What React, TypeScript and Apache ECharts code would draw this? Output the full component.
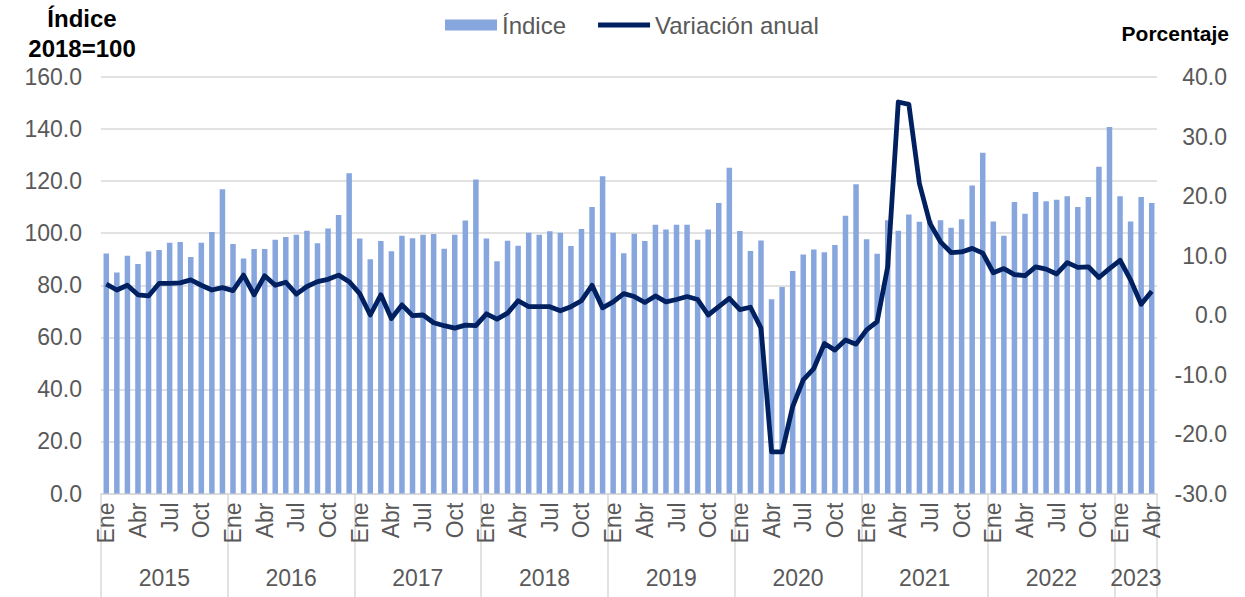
import React, { useEffect, useRef } from "react";
import * as echarts from "echarts";

const years = ["2015", "2016", "2017", "2018", "2019", "2020", "2021", "2022", "2023"];
const monthsPerYear = [12, 12, 12, 12, 12, 12, 12, 12, 4];
const monthNames = ["Ene", "Feb", "Mar", "Abr", "May", "Jun", "Jul", "Ago", "Sep", "Oct", "Nov", "Dic"];

const indice = [
  92.2, 84.9, 91.3, 88.2, 93.0, 93.5, 96.3, 96.6, 90.9, 96.3, 100.5, 116.9,
  95.8, 90.3, 93.9, 93.9, 97.5, 98.5, 99.4, 100.9, 96.1, 101.8, 107.0, 123.0,
  98.0, 90.0, 97.0, 93.1, 99.0, 98.1, 99.4, 99.7, 94.0, 99.4, 104.9, 120.6,
  98.0, 89.2, 97.1, 95.2, 100.2, 99.4, 100.7, 100.2, 95.1, 101.6, 110.1, 121.9,
  100.2, 92.3, 99.8, 97.0, 103.2, 101.4, 103.2, 103.2, 97.5, 101.4, 111.6, 125.1,
  100.8, 93.2, 97.2, 74.6, 79.3, 85.5, 91.8, 93.7, 92.7, 95.5, 106.7, 118.8,
  97.7, 92.1, 105.0, 100.9, 107.2, 104.4, 104.8, 105.0, 102.1, 105.4, 118.3, 130.9,
  104.5, 99.0, 112.0, 107.5, 115.8, 112.3, 112.8, 114.2, 110.1, 113.9, 125.5, 140.8,
  114.2, 104.5, 113.9, 111.6,
];

const variacion = [
  5.2, 4.2, 5.0, 3.4, 3.2, 5.3, 5.3, 5.4, 5.9, 5.0, 4.2, 4.6,
  4.1, 6.7, 3.4, 6.6, 5.0, 5.5, 3.5, 4.8, 5.6, 6.0, 6.7, 5.6,
  3.6, 0.0, 3.4, -0.6, 1.7, -0.1, 0.0, -1.3, -1.8, -2.2, -1.7, -1.8,
  0.2, -0.7, 0.3, 2.4, 1.4, 1.4, 1.4, 0.7, 1.4, 2.4, 5.0, 1.2,
  2.2, 3.6, 3.1, 2.1, 3.2, 2.2, 2.6, 3.1, 2.6, 0.0, 1.4, 2.8,
  0.9, 1.3, -2.2, -23.0, -23.0, -15.4, -10.9, -9.0, -4.8, -5.9, -4.2, -4.9,
  -2.5, -1.1, 8.1, 35.8, 35.4, 22.1, 15.4, 12.3, 10.5, 10.6, 11.2, 10.4,
  7.1, 7.8, 6.8, 6.6, 8.1, 7.7, 6.9, 8.8, 8.0, 8.1, 6.3, 7.8,
  9.2, 5.9, 1.8, 4.0,
];

const FONT = "'Liberation Sans', Arial, sans-serif";
const GREY = "#595959";
const GRID = "#d9d9d9";

export default function App() {
  const ref = useRef<HTMLDivElement>(null);

  useEffect(() => {
    if (!ref.current) return;
    const chart = echarts.init(ref.current, undefined, { renderer: "svg" });

    const categories: string[] = [];
    const monthLabel: string[] = [];
    years.forEach((y, yi) => {
      for (let m = 0; m < monthsPerYear[yi]; m++) {
        categories.push(`${y}-${m + 1}`);
        monthLabel.push(monthNames[m]);
      }
    });

    const boundaries: number[] = [0];
    const centers: number[] = [];
    const centerYear: Record<string, string> = {};
    let acc = 0;
    years.forEach((y, yi) => {
      const c = acc + monthsPerYear[yi] / 2;
      centers.push(c);
      centerYear[String(c)] = y;
      acc += monthsPerYear[yi];
      boundaries.push(acc);
    });

    chart.setOption({
      animation: false,
      textStyle: { fontFamily: FONT },
      grid: { left: 101, right: 88, top: 77, bottom: 103.5, containLabel: false },
      legend: {
        left: 440,
        top: 8,
        itemWidth: 52,
        itemHeight: 11,
        itemGap: 32,
        textStyle: { fontSize: 24, color: GREY, fontFamily: FONT },
        data: [
          { name: "Índice", icon: "rect" },
          {
            name: "Variación anual",
            icon: "path://M0,0H52V4.8H0Z",
            itemStyle: { color: "#002060", borderWidth: 0 },
          },
        ],
      },
      graphic: [
        {
          type: "text",
          x: 82,
          y: 3,
          style: {
            text: "Índice\n2018=100",
            font: `bold 24px ${FONT}`,
            fill: "#000",
            align: "center",
            verticalAlign: "top",
            lineHeight: 30,
          },
        },
        {
          type: "text",
          x: 1229,
          y: 23,
          style: {
            text: "Porcentaje",
            font: `bold 21px ${FONT}`,
            fill: "#000",
            align: "right",
            verticalAlign: "top",
          },
        },
      ],
      xAxis: [
        {
          type: "category",
          data: categories,
          boundaryGap: true,
          axisLine: { onZero: false, lineStyle: { color: GRID, width: 1.5 } },
          axisTick: { show: false },
          axisLabel: {
            rotate: 90,
            interval: (i: number) => i % 3 === 0,
            formatter: (_v: string, i: number) => monthLabel[i],
            fontSize: 23,
            color: GREY,
            margin: 9,
            fontFamily: FONT,
          },
          splitLine: { show: false },
        },
        {
          type: "value",
          min: 0,
          max: categories.length,
          position: "bottom",
          axisLine: { show: false, onZero: false },
          axisTick: {
            show: true,
            customValues: boundaries,
            length: 104,
            lineStyle: { color: GRID, width: 1.5 },
          },
          axisLabel: {
            customValues: centers,
            formatter: (v: number) => centerYear[String(v)] ?? "",
            fontSize: 23,
            color: GREY,
            margin: 73,
            fontFamily: FONT,
          },
          splitLine: { show: false },
        },
      ],
      yAxis: [
        {
          type: "value",
          min: 0,
          max: 160,
          interval: 20,
          axisLine: { show: false },
          axisTick: { show: false },
          axisLabel: {
            formatter: (v: number) => v.toFixed(1),
            fontSize: 23,
            color: GREY,
            margin: 19,
            fontFamily: FONT,
          },
          splitLine: { lineStyle: { color: GRID, width: 1.5 } },
        },
        {
          type: "value",
          min: -30,
          max: 40,
          interval: 10,
          position: "right",
          axisLine: { show: false },
          axisTick: { show: false },
          axisLabel: {
            formatter: (v: number) => v.toFixed(1),
            fontSize: 23,
            color: GREY,
            margin: 70,
            align: "right",
            fontFamily: FONT,
          },
          splitLine: { show: false },
        },
      ],
      series: [
        {
          name: "Índice",
          type: "bar",
          xAxisIndex: 0,
          yAxisIndex: 0,
          data: indice,
          barWidth: 5.5,
          itemStyle: { color: "#88A6DE" },
        },
        {
          name: "Variación anual",
          type: "line",
          xAxisIndex: 0,
          yAxisIndex: 1,
          data: variacion,
          symbol: "none",
          lineStyle: { color: "#002060", width: 4.8, join: "round" },
          itemStyle: { color: "#002060" },
        },
      ],
    });

    return () => chart.dispose();
  }, []);

  return (
    <div
      ref={ref}
      style={{ position: "absolute", left: 0, top: 0, width: 1245, height: 597 }}
    />
  );
}
